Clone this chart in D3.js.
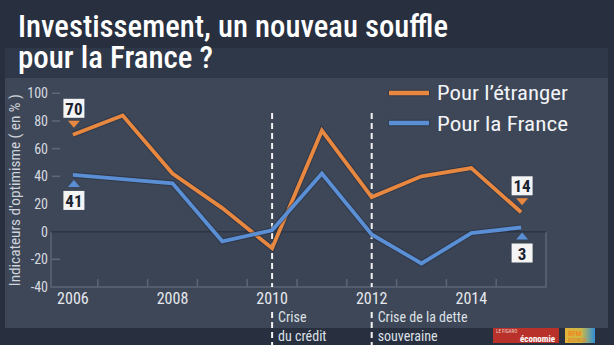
<!DOCTYPE html>
<html>
<head>
<meta charset="utf-8">
<script src="https://cdn.jsdelivr.net/npm/d3@7"></script>
<style>
  html, body { margin: 0; padding: 0; background: #283040; }
  svg { display: block; }
  text { font-family: "Roboto Condensed", "Liberation Sans Narrow", "DejaVu Sans Condensed", Roboto, sans-serif; font-stretch: condensed; }
</style>
</head>
<body>
<svg id="chart" width="614" height="345"></svg>
<script>
// ---- data ----
const titleLines = ["Investissement, un nouveau souffle", "pour la France ?"];
const years = [2006, 2007, 2008, 2009, 2010, 2011, 2012, 2013, 2014, 2015];
const etranger = [70, 84, 42, 17, -12, 73, 25, 40, 46, 14];
const france = [41, 38, 35, -7, 1, 42, -2, -23, -1, 3];
const seriesNames = ["Pour l\u2019étranger", "Pour la France"];
const yTicks = [-40, -20, 0, 20, 40, 60, 80, 100];
const yDashTicks = [100, 80, 60, 40, -20];
const xTickLabels = [2006, 2008, 2010, 2012, 2014];
const xMinorTicks = [2006.5, 2007.5, 2008.5, 2009.5, 2010.5, 2011.5, 2012.5, 2013.5, 2014.5];
const crisisYears = [2010, 2012];
const crisisLabels = [["Crise", "du crédit"], ["Crise de la dette", "souveraine"]];
const yAxisTitle = "Indicateurs d'optimisme ( en % )";

const colors = { etr: "#e8873f", fr: "#5a8fd6", outline: "#273040" };

const svg = d3.select("#chart");

// backgrounds
svg.append("rect").attr("x", 0).attr("y", 0).attr("width", 614).attr("height", 345).attr("fill", "#283040");
svg.append("rect").attr("x", 5).attr("y", 48).attr("width", 603).attr("height", 30).attr("fill", "#2f3848");
svg.append("rect").attr("x", 5).attr("y", 78).attr("width", 603).attr("height", 250).attr("fill", "#3e4757");

// scales
const x = d3.scaleLinear().domain([2005.5, 2015.5]).range([48, 546]);
const y = d3.scaleLinear().domain([-40, 100]).range([287, 93.3]);

// negative zone box
svg.append("rect").attr("x", 51).attr("y", y(0)).attr("width", x(2015.5) - 51).attr("height", y(-40) - y(0))
  .attr("fill", "#3b4454");
svg.append("path")
  .attr("d", `M51,${y(0)}V${y(-40)}H${x(2015.5)}V${y(0)}`)
  .attr("fill", "none").attr("stroke", "#5b6575").attr("stroke-width", 1.5);
// zero line
svg.append("line").attr("x1", 51).attr("x2", x(2015.5)).attr("y1", y(0)).attr("y2", y(0))
  .attr("stroke", "#2b3546").attr("stroke-width", 1.5);

// bottom minor ticks
svg.selectAll(".mt").data(xMinorTicks).enter().append("line")
  .attr("x1", d => x(d)).attr("x2", d => x(d)).attr("y1", y(-40)).attr("y2", y(-40) - 8)
  .attr("stroke", "#5b6575").attr("stroke-width", 1.5);

// y tick labels and dashes
svg.selectAll(".yl").data(yTicks).enter().append("text")
  .attr("x", 48).attr("y", d => y(d)).attr("dy", "0.36em").attr("text-anchor", "end")
  .attr("fill", "#d6dae0").attr("font-size", 14).text(d => d < 0 ? "-" + Math.abs(d) : d);
svg.selectAll(".yd").data(yDashTicks).enter().append("line")
  .attr("x1", 52).attr("x2", 60).attr("y1", d => y(d)).attr("y2", d => y(d))
  .attr("stroke", "#5f6878").attr("stroke-width", 1.5);

// y axis title
svg.append("text").attr("transform", `translate(20,${y(30)}) rotate(-90)`)
  .attr("text-anchor", "middle").attr("fill", "#cfd4db").attr("font-size", 14)
  .attr("textLength", 192).attr("lengthAdjust", "spacingAndGlyphs")
  .text(yAxisTitle);

// x labels
svg.selectAll(".xl").data(xTickLabels).enter().append("text")
  .attr("x", d => x(d)).attr("y", 304).attr("text-anchor", "middle")
  .attr("fill", "#e6e9ee").attr("font-size", 16).text(d => d);

// crisis dashed lines
crisisYears.forEach((yr, i) => {
  svg.append("line").attr("x1", x(yr)).attr("x2", x(yr)).attr("y1", 113).attr("y2", y(-40))
    .attr("stroke", "#f2f2f2").attr("stroke-width", 2).attr("stroke-dasharray", "6,4");
  svg.append("line").attr("x1", x(yr)).attr("x2", x(yr)).attr("y1", 312).attr("y2", 345)
    .attr("stroke", "#f2f2f2").attr("stroke-width", 2).attr("stroke-dasharray", "6,4");
  crisisLabels[i].forEach((t, j) => {
    svg.append("text").attr("x", x(yr) + 6).attr("y", 322 + j * 19)
      .attr("fill", "#dde1e7").attr("font-size", 14).text(t);
  });
});

// lines
const lineGen = d3.line().x((d, i) => x(years[i])).y(d => y(d));
[[etranger, colors.etr], [france, colors.fr]].forEach(([vals, col]) => {
  svg.append("path").attr("d", lineGen(vals)).attr("fill", "none")
    .attr("stroke", colors.outline).attr("stroke-opacity", 0.55).attr("stroke-width", 6)
    .attr("stroke-linejoin", "miter");
  svg.append("path").attr("d", lineGen(vals)).attr("fill", "none")
    .attr("stroke", col).attr("stroke-width", 3.8).attr("stroke-linejoin", "miter");
});

// value callouts at first and last points
const callouts = [
  { vals: etranger, idx: 0, col: colors.etr, above: true },
  { vals: france, idx: 0, col: colors.fr, above: false },
  { vals: etranger, idx: years.length - 1, col: colors.etr, above: true },
  { vals: france, idx: years.length - 1, col: colors.fr, above: false }
];
callouts.forEach(c => {
  const px = x(years[c.idx]) + 1, py = y(c.vals[c.idx]);
  let tri, boxTop;
  if (c.above) {
    tri = `M${px - 6},${py - 14}L${px + 6},${py - 14}L${px},${py - 7}Z`;
    boxTop = py - 36;
  } else {
    tri = `M${px - 6},${py + 12}L${px + 6},${py + 12}L${px},${py + 5}Z`;
    boxTop = py + 16;
  }
  svg.append("path").attr("d", tri).attr("fill", c.col);
  svg.append("rect").attr("x", px - 10.5).attr("y", boxTop).attr("width", 21).attr("height", 19)
    .attr("fill", "#f4f4f4");
  svg.append("text").attr("x", px).attr("y", boxTop + 16).attr("text-anchor", "middle")
    .attr("fill", "#1c2330").attr("font-size", 17).attr("font-weight", "bold")
    .text(c.vals[c.idx]);
});

// legend
[[colors.etr, 93, 100], [colors.fr, 123, 131]].forEach(([col, ly, ty], i) => {
  svg.append("line").attr("x1", 388).attr("x2", 430).attr("y1", ly).attr("y2", ly)
    .attr("stroke", colors.outline).attr("stroke-opacity", 0.55).attr("stroke-width", 6.5);
  svg.append("line").attr("x1", 389).attr("x2", 429).attr("y1", ly).attr("y2", ly)
    .attr("stroke", col).attr("stroke-width", 4.5);
  svg.append("text").attr("x", 437).attr("y", ty).attr("fill", "#f2f4f7").attr("font-size", 21)
    .attr("textLength", 131).attr("lengthAdjust", "spacingAndGlyphs").text(seriesNames[i]);
});

// title
svg.append("text").attr("x", 18).attr("y", 37).attr("fill", "#ffffff").attr("font-size", 31)
  .attr("font-weight", 500).attr("textLength", 430).attr("lengthAdjust", "spacingAndGlyphs").text(titleLines[0]);
svg.append("text").attr("x", 18).attr("y", 68).attr("fill", "#ffffff").attr("font-size", 31)
  .attr("font-weight", 500).attr("textLength", 195).attr("lengthAdjust", "spacingAndGlyphs").text(titleLines[1]);

// logos
svg.append("rect").attr("x", 493).attr("y", 328).attr("width", 66).attr("height", 15).attr("fill", "#b8322b");
svg.append("text").attr("x", 496).attr("y", 333).attr("fill", "#f0d0c8").attr("font-size", 5).text("LE FIGARO");
svg.append("text").attr("x", 520).attr("y", 341.5).attr("fill", "#ffffff")
  .attr("font-size", 9).attr("font-weight", "bold").text("économie");
const grad = svg.append("defs").append("linearGradient").attr("id", "bfm");
grad.append("stop").attr("offset", "0%").attr("stop-color", "#e3b13a");
grad.append("stop").attr("offset", "55%").attr("stop-color", "#c9b848");
grad.append("stop").attr("offset", "100%").attr("stop-color", "#2f8fd8");
svg.append("rect").attr("x", 565).attr("y", 328).attr("width", 30).attr("height", 15).attr("fill", "url(#bfm)");
svg.append("text").attr("x", 568).attr("y", 335.5).attr("fill", "#f08a20").attr("font-size", 7.5).attr("font-weight", "bold").text("BFM");
svg.append("text").attr("x", 568).attr("y", 342).attr("fill", "#e07a20").attr("font-size", 4.5).text("BUSINESS");
</script>
</body>
</html>
